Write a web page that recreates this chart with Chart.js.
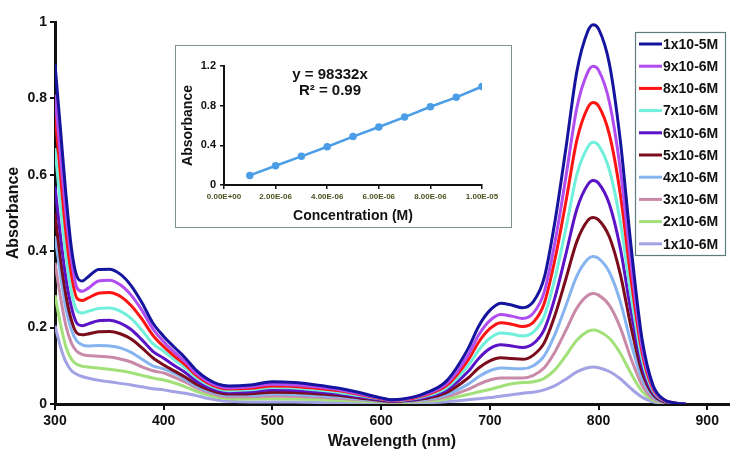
<!DOCTYPE html>
<html>
<head>
<meta charset="utf-8">
<script src="https://cdn.jsdelivr.net/npm/chart.js@4.4.1/dist/chart.umd.min.js"></script>
<style>
  html, body { margin: 0; padding: 0; background: #fff; }
  #wrap { position: relative; width: 751px; height: 469px; }
  #inset-box { position: absolute; left: 175px; top: 45px; width: 335px; height: 181px;
               border: 1.5px solid #7a9494; background: #fff; }
</style>
</head>
<body>
<div id="wrap">
  <canvas id="main" width="751" height="469"></canvas>
  <div id="inset-box"><canvas id="inset" width="335" height="181"></canvas></div>
</div>
<script>
// longitudes de onda (nm), compartidas por todas las series
const wavelengths = [300,305,310,315,320,325,330,340,350,360,370,380,390,400,410,420,430,440,450,460,480,500,520,540,560,580,600,610,620,640,660,680,690,700,710,720,730,740,750,760,770,780,790,795,800,810,820,830,840,850,860,870,880];

const seriesLabels = ['1x10-5M','9x10-6M','8x10-6M','7x10-6M','6x10-6M','5x10-6M','4x10-6M','3x10-6M','2x10-6M','1x10-6M'];
const seriesColors = ['#14149e','#b04cf0','#ff1414','#70f0da','#5a14c6','#7a0c1c','#86b4f0','#c88aa8','#a2e07a','#a2a2e4'];

const abs_1e5 = [0.89,0.72,0.55,0.41,0.335,0.322,0.332,0.352,0.353,0.34,0.31,0.265,0.212,0.177,0.148,0.12,0.088,0.066,0.052,0.047,0.050,0.058,0.056,0.050,0.042,0.030,0.016,0.011,0.013,0.028,0.060,0.145,0.205,0.245,0.264,0.259,0.252,0.268,0.33,0.48,0.67,0.87,0.975,0.993,0.982,0.89,0.69,0.41,0.17,0.05,0.012,0.003,0];
const abs_9e6 = [0.81,0.65,0.50,0.38,0.305,0.295,0.302,0.322,0.324,0.312,0.285,0.245,0.197,0.163,0.135,0.11,0.08,0.06,0.047,0.042,0.045,0.052,0.050,0.045,0.038,0.027,0.015,0.010,0.012,0.025,0.053,0.128,0.182,0.218,0.234,0.230,0.224,0.238,0.293,0.425,0.595,0.775,0.868,0.884,0.874,0.79,0.615,0.365,0.15,0.045,0.011,0.003,0];
const abs_8e6 = [0.76,0.60,0.45,0.34,0.278,0.271,0.277,0.29,0.292,0.282,0.258,0.222,0.18,0.15,0.125,0.102,0.075,0.056,0.044,0.039,0.041,0.047,0.046,0.041,0.035,0.025,0.014,0.010,0.011,0.023,0.048,0.115,0.163,0.197,0.213,0.209,0.203,0.214,0.263,0.38,0.53,0.69,0.775,0.789,0.78,0.705,0.55,0.325,0.135,0.04,0.01,0.003,0];
const abs_7e6 = [0.67,0.52,0.39,0.295,0.245,0.238,0.242,0.25,0.251,0.243,0.224,0.193,0.158,0.138,0.115,0.094,0.069,0.051,0.04,0.035,0.037,0.043,0.042,0.037,0.031,0.022,0.013,0.009,0.010,0.020,0.042,0.10,0.142,0.172,0.186,0.183,0.178,0.188,0.23,0.33,0.46,0.60,0.672,0.685,0.677,0.612,0.477,0.282,0.117,0.035,0.009,0.002,0];
const abs_6e6 = [0.57,0.44,0.33,0.255,0.212,0.205,0.209,0.218,0.219,0.212,0.195,0.168,0.138,0.12,0.10,0.082,0.06,0.045,0.035,0.031,0.032,0.037,0.036,0.032,0.027,0.019,0.011,0.008,0.009,0.017,0.036,0.085,0.12,0.145,0.155,0.152,0.148,0.158,0.195,0.28,0.393,0.51,0.574,0.585,0.578,0.523,0.408,0.24,0.10,0.03,0.008,0.002,0];
const abs_5e6 = [0.50,0.38,0.285,0.22,0.186,0.181,0.183,0.189,0.19,0.184,0.17,0.147,0.121,0.102,0.086,0.07,0.052,0.039,0.03,0.026,0.027,0.031,0.030,0.027,0.023,0.016,0.009,0.007,0.008,0.014,0.03,0.068,0.095,0.113,0.121,0.119,0.117,0.128,0.16,0.233,0.328,0.425,0.48,0.488,0.482,0.437,0.34,0.20,0.084,0.025,0.006,0.002,0];
const abs_4e6 = [0.44,0.34,0.25,0.195,0.165,0.155,0.152,0.153,0.152,0.147,0.135,0.117,0.10,0.092,0.08,0.064,0.047,0.035,0.027,0.023,0.023,0.026,0.025,0.022,0.019,0.013,0.008,0.006,0.007,0.012,0.024,0.052,0.072,0.087,0.094,0.093,0.092,0.10,0.126,0.183,0.258,0.335,0.379,0.386,0.381,0.345,0.268,0.158,0.066,0.02,0.005,0.001,0];
const abs_3e6 = [0.37,0.28,0.205,0.16,0.138,0.13,0.127,0.125,0.123,0.118,0.11,0.097,0.087,0.081,0.07,0.057,0.042,0.031,0.023,0.019,0.019,0.021,0.02,0.018,0.015,0.011,0.007,0.005,0.006,0.01,0.019,0.038,0.052,0.063,0.068,0.068,0.068,0.075,0.095,0.137,0.193,0.251,0.284,0.289,0.285,0.258,0.20,0.118,0.05,0.015,0.004,0.001,0];
const abs_2e6 = [0.285,0.21,0.15,0.118,0.104,0.099,0.097,0.094,0.091,0.087,0.082,0.075,0.068,0.063,0.055,0.045,0.033,0.024,0.017,0.014,0.013,0.014,0.013,0.012,0.01,0.007,0.005,0.004,0.004,0.007,0.013,0.025,0.032,0.038,0.046,0.053,0.056,0.058,0.067,0.09,0.127,0.167,0.19,0.194,0.191,0.172,0.133,0.079,0.033,0.01,0.003,0.001,0];
const abs_1e6 = [0.205,0.15,0.11,0.088,0.078,0.072,0.068,0.062,0.058,0.054,0.05,0.045,0.04,0.037,0.032,0.028,0.022,0.015,0.01,0.007,0.005,0.005,0.005,0.004,0.003,0.002,0.002,0.002,0.002,0.003,0.006,0.011,0.014,0.017,0.02,0.024,0.028,0.031,0.037,0.048,0.065,0.084,0.095,0.097,0.095,0.085,0.066,0.04,0.018,0.006,0.002,0.001,0];

const allSeries = [abs_1e5, abs_9e6, abs_8e6, abs_7e6, abs_6e6, abs_5e6, abs_4e6, abs_3e6, abs_2e6, abs_1e6];

// curva de calibración (recuadro)
const calConc = [1e-6,2e-6,3e-6,4e-6,5e-6,6e-6,7e-6,8e-6,9e-6,1e-5];
const calAbs  = [0.097,0.194,0.289,0.386,0.488,0.585,0.685,0.789,0.884,0.993];
const calEquation = 'y = 98332x';
const calR2 = 'R\u00B2 = 0.99';

const FONT = '"Liberation Sans", Arial, sans-serif';

// leyenda dibujada dentro del área del gráfico, arriba a la derecha
const boxLegend = {
  id: 'boxLegend',
  afterDraw(chart) {
    const ctx = chart.ctx;
    const x0 = 635, y0 = 32, w = 90, h = 223;
    ctx.save();
    ctx.fillStyle = '#fff';
    ctx.fillRect(x0, y0, w, h);
    ctx.strokeStyle = '#5e7c7c';
    ctx.lineWidth = 1.2;
    ctx.strokeRect(x0 + 0.5, y0 + 0.5, w, h);
    ctx.font = 'bold 14px ' + FONT;
    ctx.textBaseline = 'middle';
    chart.data.datasets.forEach((ds, i) => {
      const y = y0 + 12 + i * 22.2;
      ctx.strokeStyle = ds.borderColor;
      ctx.lineWidth = 3;
      ctx.beginPath();
      ctx.moveTo(x0 + 4, y);
      ctx.lineTo(x0 + 27, y);
      ctx.stroke();
      ctx.fillStyle = '#111';
      ctx.fillText(ds.label, x0 + 28, y + 1);
    });
    ctx.restore();
  }
};

new Chart(document.getElementById('main'), {
  type: 'line',
  data: {
    datasets: seriesLabels.map((label, i) => ({
      label,
      data: wavelengths.map((w, j) => ({ x: w, y: allSeries[i][j] })),
      borderColor: seriesColors[i],
      borderWidth: 3,
      pointRadius: 0,
      cubicInterpolationMode: 'monotone',
      fill: false
    }))
  },
  options: {
    responsive: false,
    animation: false,
    layout: { padding: { top: 22, right: 22, bottom: 14, left: 0 } },
    plugins: { legend: { display: false }, tooltip: { enabled: false } },
    scales: {
      x: {
        type: 'linear', min: 300, max: 920,
        afterFit: (s) => { s.height = 51; },
        ticks: { stepSize: 100, includeBounds: false, color: '#111', padding: 3,
                 font: { family: FONT, size: 14, weight: 'bold' } },
        grid: { drawOnChartArea: false, drawTicks: true, tickLength: 6, color: '#111', lineWidth: 2 },
        border: { color: '#111', width: 3 },
        title: { display: true, text: 'Wavelength (nm)', color: '#111', font: { family: FONT, size: 16, weight: 'bold' } }
      },
      y: {
        min: 0, max: 1,
        afterFit: (s) => { s.width = 55; },
        ticks: { stepSize: 0.2, color: '#111', padding: 3,
                 callback: (v) => String(+v.toFixed(1)),
                 font: { family: FONT, size: 14, weight: 'bold' } },
        grid: { drawOnChartArea: false, drawTicks: true, tickLength: 5, color: '#111', lineWidth: 2 },
        border: { color: '#111', width: 3 },
        title: { display: true, text: 'Absorbance', color: '#111', font: { family: FONT, size: 16, weight: 'bold' } }
      }
    }
  },
  plugins: [boxLegend]
});

const fmtE = (v) => {
  if (Math.abs(v) < 1e-12) return '0.00E+00';
  const e = Math.floor(Math.log10(Math.abs(v)) + 1e-9);
  const m = v / Math.pow(10, e);
  return m.toFixed(2) + 'E' + (e < 0 ? '-' : '+') + String(Math.abs(e)).padStart(2, '0');
};

const equationText = {
  id: 'equationText',
  afterDraw(chart) {
    const ctx = chart.ctx;
    ctx.save();
    ctx.fillStyle = '#111';
    ctx.font = 'bold 15px ' + FONT;
    ctx.textAlign = 'center';
    ctx.textBaseline = 'middle';
    ctx.fillText(calEquation, 154, 29);
    ctx.fillText(calR2, 154, 45);
    ctx.restore();
  }
};

new Chart(document.getElementById('inset'), {
  type: 'line',
  data: {
    datasets: [{
      data: calConc.map((c, i) => ({ x: c, y: calAbs[i] })),
      borderColor: '#4a9de6',
      backgroundColor: '#4a9de6',
      borderWidth: 2.5,
      pointRadius: 2.5,
      fill: false
    }]
  },
  options: {
    responsive: false,
    animation: false,
    layout: { padding: { top: 20, right: 29, bottom: 2, left: 0 } },
    plugins: { legend: { display: false }, tooltip: { enabled: false } },
    scales: {
      x: {
        type: 'linear', min: 0, max: 1e-5,
        afterFit: (s) => { s.height = 40; },
        ticks: { stepSize: 2e-6, callback: fmtE, color: '#4b5320', padding: 3, maxRotation: 0, autoSkip: false,
                 font: { family: FONT, size: 8, weight: 'bold' } },
        grid: { drawOnChartArea: false, drawTicks: true, tickLength: 4, color: '#111', lineWidth: 1.5 },
        border: { color: '#111', width: 2 },
        title: { display: true, text: 'Concentration (M)', color: '#111', padding: { top: 0, bottom: 0 },
                 font: { family: FONT, size: 14, weight: 'bold' } }
      },
      y: {
        min: 0, max: 1.2,
        afterFit: (s) => { s.width = 48; },
        ticks: { stepSize: 0.4, color: '#111', padding: 4,
                 callback: (v) => (Math.abs(v) < 1e-9 ? '0' : v.toFixed(1)),
                 font: { family: FONT, size: 11, weight: 'bold' } },
        grid: { drawOnChartArea: false, drawTicks: true, tickLength: 4, color: '#111', lineWidth: 1.5 },
        border: { color: '#111', width: 2 },
        title: { display: true, text: 'Absorbance', color: '#111', font: { family: FONT, size: 14, weight: 'bold' } }
      }
    }
  },
  plugins: [equationText]
});
</script>
</body>
</html>
